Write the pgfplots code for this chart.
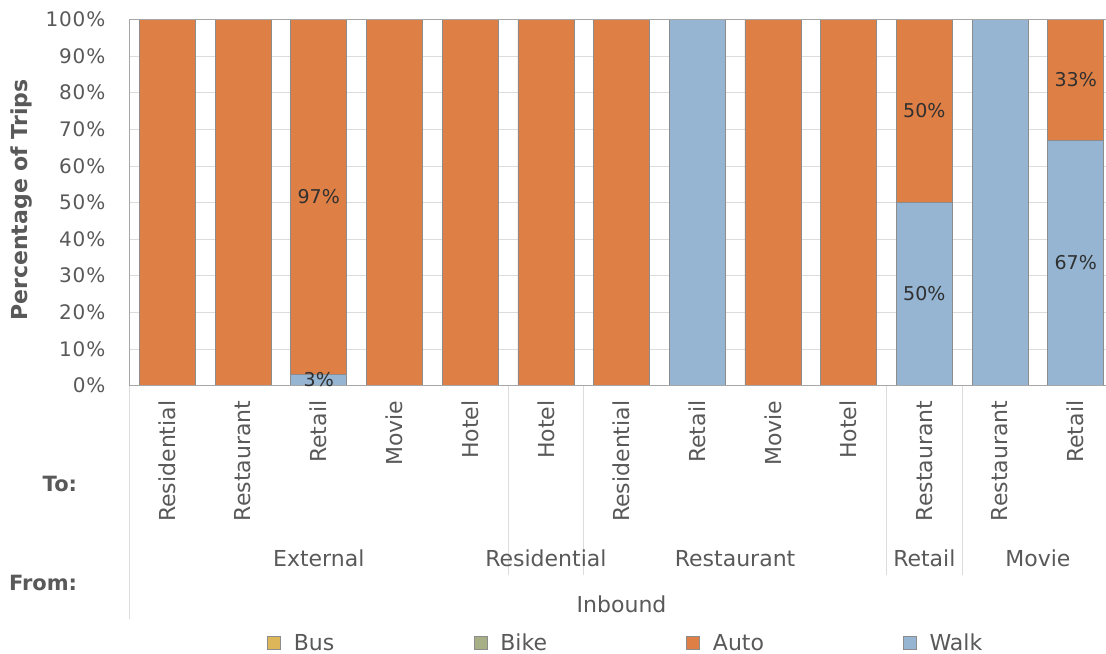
\documentclass[border=0pt]{standalone}
\usepackage{pgfplots}
\pgfplotsset{compat=1.18}
\usepackage{pgfplotstable}
\usepackage{fontspec}
\setmainfont{DejaVu Sans}

\definecolor{autoc}{HTML}{DE7F45}
\definecolor{walkc}{HTML}{95B5D3}
\definecolor{busc}{HTML}{DDB65A}
\definecolor{bikec}{HTML}{A6AF86}
\definecolor{txt}{HTML}{595959}
\definecolor{lbl}{HTML}{303030}
\definecolor{gridc}{HTML}{DCDCDC}
\definecolor{edgec}{HTML}{8C8C8C}
\definecolor{framec}{HTML}{A6A6A6}

% share of inbound trips by mode, one row per from/to pair
\pgfplotstableread{
idx walk auto
0   0    100
1   0    100
2   3    97
3   0    100
4   0    100
5   0    100
6   0    100
7   100  0
8   0    100
9   0    100
10  50   50
11  100  0
12  67   33
}\tripdata

\newcommand\tickfont{\fontsize{22bp}{26bp}\selectfont}
\newcommand\yfont{\fontsize{20bp}{24bp}\selectfont\addfontfeatures{LetterSpace=4}}
\newcommand\lblfont{\fontsize{19bp}{23bp}\selectfont}

\begin{document}
\begin{tikzpicture}
\begin{axis}[
  at={(0,0)}, anchor=south west,
  scale only axis, width=976.5bp, height=366bp,
  xmin=-0.5, xmax=12.4, ymin=0, ymax=100,
  clip=false,
  axis line style={draw=none},
  major tick length=0pt,
  tick style={draw=none},
  xtick={0,...,12},
  xticklabels={Residential,Restaurant,Retail,Movie,Hotel,Hotel,Residential,Retail,Movie,Hotel,Restaurant,Restaurant,Retail},
  xticklabel style={rotate=90, anchor=east, inner sep=0pt, font=\tickfont, text=txt},
  xticklabel shift=15bp,
  ytick={0,10,...,100},
  yticklabels={0\%,10\%,20\%,30\%,40\%,50\%,60\%,70\%,80\%,90\%,100\%},
  yticklabel style={anchor=east, inner sep=0pt, font=\yfont, text=txt},
  yticklabel shift=24bp,
  ymajorgrids,
  grid style={gridc, line width=0.75bp},
  unbounded coords=discard,
  legend columns=4,
  legend cell align=left,
  legend image code/.code={\draw[#1, draw=edgec, line width=0.6bp] (0bp,-6.5bp) rectangle (13bp,6.5bp);},
  legend style={at={(rel axis cs:0.1408,-0.704)}, anchor=west, draw=none, fill=none,
    inner sep=0pt, font=\tickfont, text=txt,
    nodes={inner sep=0pt},
    /tikz/every odd column/.style={column sep=13bp}},
]
% Auto segment spans walk .. walk+auto, drawn under the walk segment
\addplot[ybar, bar width=0.74, bar shift=0pt, fill=autoc, draw=edgec, line width=0.6bp, forget plot]
  table[x=idx, y expr=\thisrow{walk}+\thisrow{auto}] {\tripdata};
\addplot[ybar, bar width=0.74, bar shift=0pt, fill=walkc, draw=edgec, line width=0.6bp, forget plot]
  table[x=idx, y expr={\thisrow{walk}>0 ? \thisrow{walk} : nan}] {\tripdata};

% value labels in the middle of mixed segments
\addplot[draw=none, mark=none, forget plot, point meta=explicit,
  /pgf/number format/assume math mode=true,
  nodes near coords={\pgfmathprintnumber[fixed,precision=0]{\pgfplotspointmeta}\%},
  every node near coord/.style={anchor=center, font=\lblfont, text=lbl}]
  table[x=idx, y expr={(\thisrow{walk}>0 && \thisrow{walk}<100) ? \thisrow{walk}/2 : nan}, meta=walk] {\tripdata};
\addplot[draw=none, mark=none, forget plot, point meta=explicit,
  /pgf/number format/assume math mode=true,
  nodes near coords={\pgfmathprintnumber[fixed,precision=0]{\pgfplotspointmeta}\%},
  every node near coord/.style={anchor=center, font=\lblfont, text=lbl}]
  table[x=idx, y expr={(\thisrow{auto}>0 && \thisrow{auto}<100) ? \thisrow{walk}+\thisrow{auto}/2 : nan}, meta=auto] {\tripdata};

\addlegendimage{fill=busc}\addlegendentry{\makebox[180bp][l]{Bus}}
\addlegendimage{fill=bikec}\addlegendentry{\makebox[186bp][l]{Bike}}
\addlegendimage{fill=autoc}\addlegendentry{\makebox[190bp][l]{Auto}}
\addlegendimage{fill=walkc}\addlegendentry{Walk}

% plot area frame (left, top, bottom)
\draw[framec, line width=0.75bp] (rel axis cs:1,1) -- (rel axis cs:0,1) -- (rel axis cs:0,0) -- (rel axis cs:1,0);

% category separators below the axis
\draw[gridc, line width=0.75bp] (axis cs:-0.5,0) -- ([yshift=-233bp]axis cs:-0.5,0);
\draw[gridc, line width=0.75bp] (axis cs:4.5,0) -- ([yshift=-189.5bp]axis cs:4.5,0);
\draw[gridc, line width=0.75bp] (axis cs:5.5,0) -- ([yshift=-189.5bp]axis cs:5.5,0);
\draw[gridc, line width=0.75bp] (axis cs:9.5,0) -- ([yshift=-189.5bp]axis cs:9.5,0);
\draw[gridc, line width=0.75bp] (axis cs:10.5,0) -- ([yshift=-189.5bp]axis cs:10.5,0);

% "From" group names
\node[anchor=base, font=\tickfont, text=txt] at ([yshift=-181.2bp]axis cs:2,0) {External};
\node[anchor=base, font=\tickfont, text=txt] at ([yshift=-181.2bp]axis cs:5,0) {Residential};
\node[anchor=base, font=\tickfont, text=txt] at ([yshift=-181.2bp]axis cs:7.5,0) {Restaurant};
\node[anchor=base, font=\tickfont, text=txt] at ([yshift=-181.2bp]axis cs:10,0) {Retail};
\node[anchor=base, font=\tickfont, text=txt] at ([yshift=-181.2bp]axis cs:11.5,0) {Movie};
\node[anchor=base, font=\tickfont, text=txt] at ([yshift=-226.5bp]axis cs:6,0) {Inbound};

% row headings
\node[anchor=base east, inner sep=0pt, font=\fontsize{21bp}{25bp}\selectfont\bfseries, text=txt]
  at ([xshift=-52.2bp, yshift=-106.2bp]axis cs:-0.5,0) {To:};
\node[anchor=base east, inner sep=0pt, font=\fontsize{21bp}{25bp}\selectfont\bfseries, text=txt]
  at ([xshift=-52.2bp, yshift=-204.5bp]axis cs:-0.5,0) {From:};

% value axis title
\node[rotate=90, anchor=center, inner sep=0pt, font=\fontsize{22bp}{26bp}\selectfont\bfseries, text=txt]
  at ([xshift=-107.8bp]axis cs:-0.5,50.7) {Percentage of Trips};
\end{axis}
\pgfresetboundingbox
\path (-129.5bp,-268.5bp) rectangle (976.5bp,385.5bp);
\end{tikzpicture}
\end{document}
